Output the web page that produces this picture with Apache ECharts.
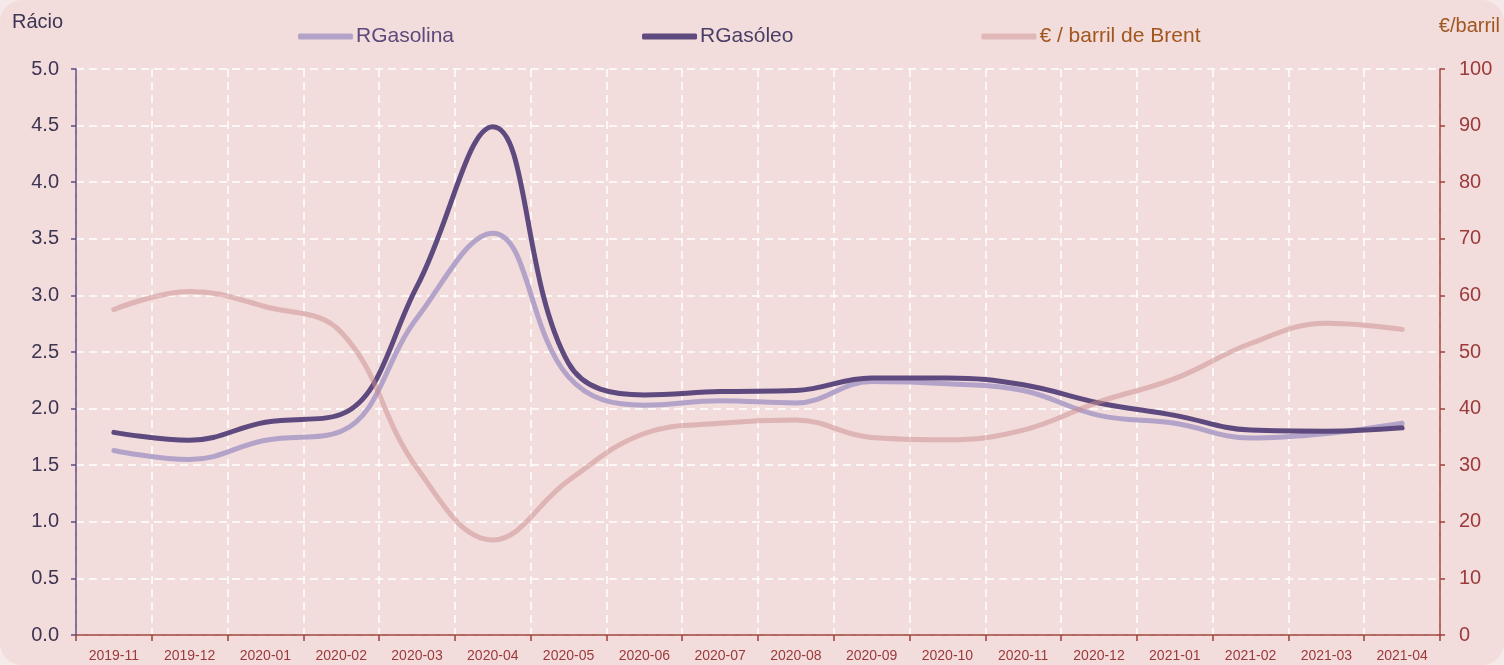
<!DOCTYPE html>
<html>
<head>
<meta charset="utf-8">
<script src="https://cdn.jsdelivr.net/npm/echarts@6/dist/echarts.min.js"></script>
<style>
html,body{margin:0;padding:0;background:#f6e9e9;}
#c{width:1504px;height:665px;background:#f2dcdc;border-radius:22px;overflow:hidden;}
</style>
</head>
<body>
<div id="c"></div>
<script>
const categories = ['2019-11','2019-12','2020-01','2020-02','2020-03','2020-04','2020-05','2020-06','2020-07','2020-08','2020-09','2020-10','2020-11','2020-12','2021-01','2021-02','2021-03','2021-04'];
const rGasolina = [1.63, 1.55, 1.72, 1.80, 2.80, 3.55, 2.28, 2.03, 2.07, 2.05, 2.24, 2.22, 2.16, 1.94, 1.87, 1.74, 1.78, 1.87];
const rGasoleo  = [1.79, 1.72, 1.88, 1.95, 3.08, 4.49, 2.40, 2.12, 2.15, 2.16, 2.27, 2.27, 2.21, 2.05, 1.94, 1.81, 1.80, 1.83];
const brent     = [57.5, 60.7, 58.0, 53.5, 29.5, 16.8, 27.3, 35.6, 37.4, 38.0, 34.9, 34.5, 36.2, 41.2, 45.3, 51.5, 55.1, 54.0];
const seriesNames = ['RGasolina', 'RGasóleo', '€ / barril de Brent'];

const FONT = "'Liberation Sans', Arial, sans-serif";
const chart = echarts.init(document.getElementById('c'), null, {renderer: 'canvas'});
const gridLine = {show: true, lineStyle: {color: '#ffffff', type: [8, 5], width: 1.5}};
chart.setOption({
  backgroundColor: 'transparent',
  animation: false,
  grid: {left: 76, right: 64, top: 69, bottom: 30, containLabel: false},
  legend: {
    left: 293, top: 21, itemGap: 188, itemWidth: 55, itemHeight: 6,
    icon: 'roundRect',
    data: [
      {name: seriesNames[0], textStyle: {color: '#5b4a7b'}},
      {name: seriesNames[1], textStyle: {color: '#4a3e66'}},
      {name: seriesNames[2], textStyle: {color: '#a0561e'}}
    ],
    textStyle: {fontFamily: FONT, fontSize: 21, padding: [0, 0, 0, -2]}
  },
  graphic: [
    {type: 'text', left: 12, top: 12, style: {text: 'Rácio', fontFamily: FONT, fontSize: 20, fill: '#3d3552'}},
    {type: 'text', right: 4, top: 16, style: {text: '€/barril', fontFamily: FONT, fontSize: 20, fill: '#a0561e'}}
  ],
  xAxis: {
    type: 'category', data: categories, boundaryGap: true,
    axisLine: {lineStyle: {color: '#a0403a', width: 1.5}},
    axisTick: {show: true, length: 6, lineStyle: {color: '#a0403a', width: 1.5}},
    axisLabel: {color: '#9c3a3a', fontFamily: "'Liberation Sans Narrow', 'Liberation Sans', sans-serif", fontSize: 14, margin: 14, interval: 0},
    splitLine: gridLine
  },
  yAxis: [
    {
      type: 'value', min: 0, max: 5, interval: 0.5, position: 'left',
      axisLine: {show: true, lineStyle: {color: '#5e4a80', width: 1.5}},
      axisTick: {show: true, length: 5, lineStyle: {color: '#5e4a80', width: 1.5}},
      axisLabel: {color: '#3d3552', fontFamily: FONT, fontSize: 20, margin: 17, formatter: v => v.toFixed(1)},
      splitLine: gridLine
    },
    {
      type: 'value', min: 0, max: 100, interval: 10, position: 'right',
      axisLine: {show: true, lineStyle: {color: '#a0403a', width: 1.5}},
      axisTick: {show: true, length: 5, lineStyle: {color: '#a0403a', width: 1.5}},
      axisLabel: {color: '#9c3a3a', fontFamily: FONT, fontSize: 20, margin: 19},
      splitLine: {show: false}
    }
  ],
  series: [
    {name: seriesNames[0], type: 'line', yAxisIndex: 0, data: rGasolina, smooth: 0.4, showSymbol: false,
     lineStyle: {color: '#b3a3c9', width: 5, cap: 'round'}, itemStyle: {color: '#b3a3c9'}},
    {name: seriesNames[1], type: 'line', yAxisIndex: 0, data: rGasoleo, smooth: 0.4, showSymbol: false,
     lineStyle: {color: '#5e4a7e', width: 5, cap: 'round'}, itemStyle: {color: '#5e4a7e'}},
    {name: seriesNames[2], type: 'line', yAxisIndex: 1, data: brent, smooth: 0.4, showSymbol: false,
     lineStyle: {color: '#c98c8c', width: 5, opacity: 0.5, cap: 'round'}, itemStyle: {color: '#e0b8b8'}}
  ]
});
</script>
</body>
</html>
